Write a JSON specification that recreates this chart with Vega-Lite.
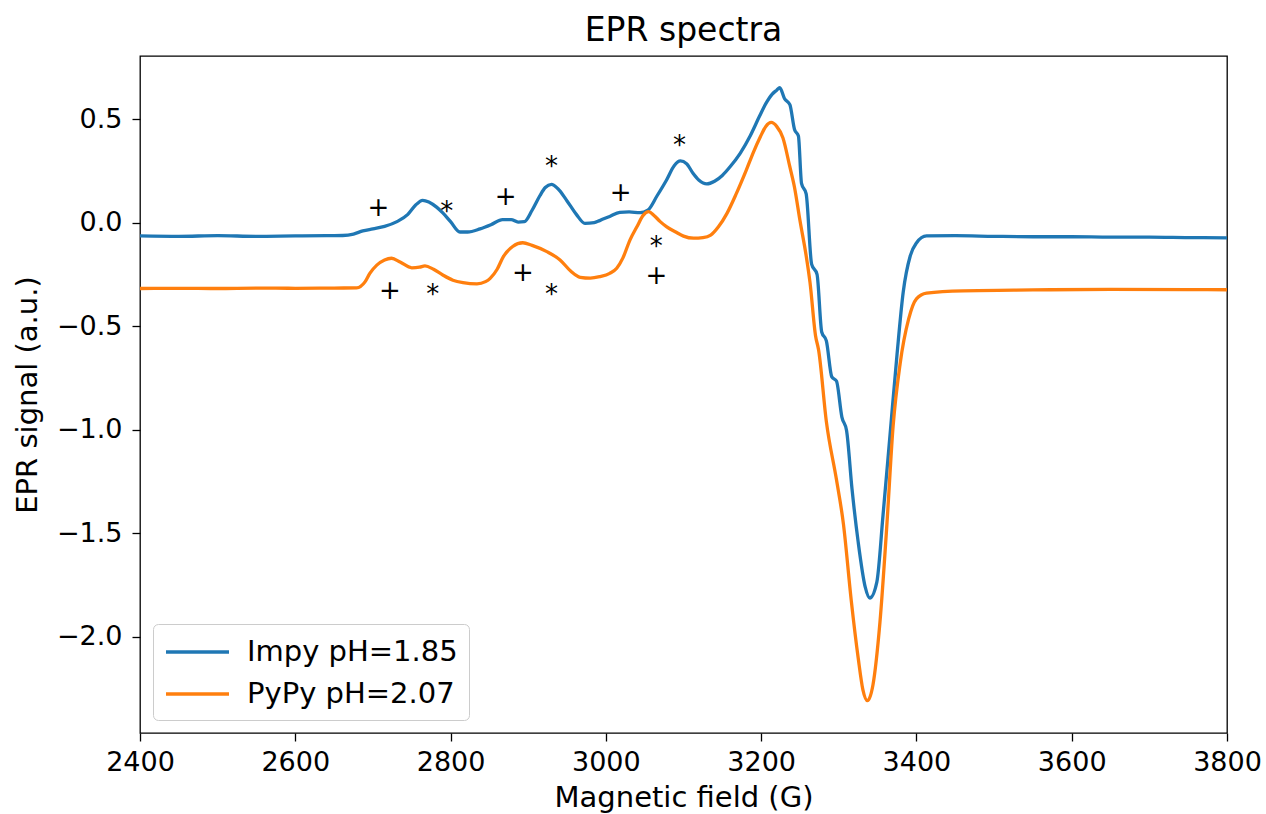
{
  "$schema": "https://vega.github.io/schema/vega-lite/v6.json",
  "width": 1087,
  "height": 677,
  "autosize": {"type": "none"},
  "padding": {"left": 140, "top": 56, "right": 39, "bottom": 81},
  "background": "white",
  "title": {"text": "EPR spectra", "fontSize": 33, "font": "DejaVu Sans", "fontWeight": "normal", "color": "#000", "anchor": "middle", "offset": 8},
  "datasets": {
    "spectra": [
      {"field": 2400, "signal": -0.064, "series": "Impy pH=1.85"},
      {"field": 2450, "signal": -0.066, "series": "Impy pH=1.85"},
      {"field": 2500, "signal": -0.063, "series": "Impy pH=1.85"},
      {"field": 2550, "signal": -0.066, "series": "Impy pH=1.85"},
      {"field": 2600, "signal": -0.064, "series": "Impy pH=1.85"},
      {"field": 2640, "signal": -0.063, "series": "Impy pH=1.85"},
      {"field": 2661, "signal": -0.062, "series": "Impy pH=1.85"},
      {"field": 2675, "signal": -0.055, "series": "Impy pH=1.85"},
      {"field": 2687, "signal": -0.040, "series": "Impy pH=1.85"},
      {"field": 2700, "signal": -0.030, "series": "Impy pH=1.85"},
      {"field": 2715, "signal": -0.018, "series": "Impy pH=1.85"},
      {"field": 2731, "signal": 0.005, "series": "Impy pH=1.85"},
      {"field": 2745, "signal": 0.040, "series": "Impy pH=1.85"},
      {"field": 2755, "signal": 0.085, "series": "Impy pH=1.85"},
      {"field": 2764, "signal": 0.108, "series": "Impy pH=1.85"},
      {"field": 2772, "signal": 0.100, "series": "Impy pH=1.85"},
      {"field": 2782, "signal": 0.075, "series": "Impy pH=1.85"},
      {"field": 2790, "signal": 0.047, "series": "Impy pH=1.85"},
      {"field": 2800, "signal": 0.005, "series": "Impy pH=1.85"},
      {"field": 2812, "signal": -0.045, "series": "Impy pH=1.85"},
      {"field": 2822, "signal": -0.045, "series": "Impy pH=1.85"},
      {"field": 2838, "signal": -0.030, "series": "Impy pH=1.85"},
      {"field": 2852, "signal": -0.010, "series": "Impy pH=1.85"},
      {"field": 2867, "signal": 0.015, "series": "Impy pH=1.85"},
      {"field": 2878, "signal": 0.015, "series": "Impy pH=1.85"},
      {"field": 2887, "signal": 0.003, "series": "Impy pH=1.85"},
      {"field": 2895, "signal": 0.005, "series": "Impy pH=1.85"},
      {"field": 2905, "signal": 0.060, "series": "Impy pH=1.85"},
      {"field": 2915, "signal": 0.130, "series": "Impy pH=1.85"},
      {"field": 2922, "signal": 0.170, "series": "Impy pH=1.85"},
      {"field": 2930, "signal": 0.185, "series": "Impy pH=1.85"},
      {"field": 2938, "signal": 0.165, "series": "Impy pH=1.85"},
      {"field": 2950, "signal": 0.105, "series": "Impy pH=1.85"},
      {"field": 2962, "signal": 0.040, "series": "Impy pH=1.85"},
      {"field": 2973, "signal": -0.003, "series": "Impy pH=1.85"},
      {"field": 2985, "signal": 0.000, "series": "Impy pH=1.85"},
      {"field": 2992, "signal": 0.010, "series": "Impy pH=1.85"},
      {"field": 3005, "signal": 0.030, "series": "Impy pH=1.85"},
      {"field": 3018, "signal": 0.050, "series": "Impy pH=1.85"},
      {"field": 3030, "signal": 0.052, "series": "Impy pH=1.85"},
      {"field": 3044, "signal": 0.048, "series": "Impy pH=1.85"},
      {"field": 3054, "signal": 0.060, "series": "Impy pH=1.85"},
      {"field": 3066, "signal": 0.130, "series": "Impy pH=1.85"},
      {"field": 3078, "signal": 0.205, "series": "Impy pH=1.85"},
      {"field": 3088, "signal": 0.275, "series": "Impy pH=1.85"},
      {"field": 3096, "signal": 0.298, "series": "Impy pH=1.85"},
      {"field": 3104, "signal": 0.285, "series": "Impy pH=1.85"},
      {"field": 3112, "signal": 0.240, "series": "Impy pH=1.85"},
      {"field": 3120, "signal": 0.205, "series": "Impy pH=1.85"},
      {"field": 3130, "signal": 0.187, "series": "Impy pH=1.85"},
      {"field": 3140, "signal": 0.200, "series": "Impy pH=1.85"},
      {"field": 3150, "signal": 0.228, "series": "Impy pH=1.85"},
      {"field": 3160, "signal": 0.270, "series": "Impy pH=1.85"},
      {"field": 3173, "signal": 0.335, "series": "Impy pH=1.85"},
      {"field": 3186, "signal": 0.420, "series": "Impy pH=1.85"},
      {"field": 3198, "signal": 0.515, "series": "Impy pH=1.85"},
      {"field": 3206, "signal": 0.575, "series": "Impy pH=1.85"},
      {"field": 3214, "signal": 0.620, "series": "Impy pH=1.85"},
      {"field": 3220, "signal": 0.640, "series": "Impy pH=1.85"},
      {"field": 3224, "signal": 0.652, "series": "Impy pH=1.85"},
      {"field": 3230, "signal": 0.600, "series": "Impy pH=1.85"},
      {"field": 3237, "signal": 0.570, "series": "Impy pH=1.85"},
      {"field": 3243, "signal": 0.450, "series": "Impy pH=1.85"},
      {"field": 3248, "signal": 0.419, "series": "Impy pH=1.85"},
      {"field": 3252, "signal": 0.190, "series": "Impy pH=1.85"},
      {"field": 3258, "signal": 0.139, "series": "Impy pH=1.85"},
      {"field": 3265, "signal": -0.200, "series": "Impy pH=1.85"},
      {"field": 3272, "signal": -0.250, "series": "Impy pH=1.85"},
      {"field": 3278, "signal": -0.528, "series": "Impy pH=1.85"},
      {"field": 3284, "signal": -0.571, "series": "Impy pH=1.85"},
      {"field": 3291, "signal": -0.745, "series": "Impy pH=1.85"},
      {"field": 3297, "signal": -0.765, "series": "Impy pH=1.85"},
      {"field": 3304, "signal": -0.939, "series": "Impy pH=1.85"},
      {"field": 3310, "signal": -1.004, "series": "Impy pH=1.85"},
      {"field": 3317, "signal": -1.285, "series": "Impy pH=1.85"},
      {"field": 3325, "signal": -1.543, "series": "Impy pH=1.85"},
      {"field": 3334, "signal": -1.759, "series": "Impy pH=1.85"},
      {"field": 3340, "signal": -1.813, "series": "Impy pH=1.85"},
      {"field": 3349, "signal": -1.736, "series": "Impy pH=1.85"},
      {"field": 3357, "signal": -1.412, "series": "Impy pH=1.85"},
      {"field": 3366, "signal": -1.025, "series": "Impy pH=1.85"},
      {"field": 3375, "signal": -0.637, "series": "Impy pH=1.85"},
      {"field": 3383, "signal": -0.335, "series": "Impy pH=1.85"},
      {"field": 3392, "signal": -0.161, "series": "Impy pH=1.85"},
      {"field": 3400, "signal": -0.098, "series": "Impy pH=1.85"},
      {"field": 3413, "signal": -0.064, "series": "Impy pH=1.85"},
      {"field": 3450, "signal": -0.063, "series": "Impy pH=1.85"},
      {"field": 3500, "signal": -0.066, "series": "Impy pH=1.85"},
      {"field": 3550, "signal": -0.068, "series": "Impy pH=1.85"},
      {"field": 3600, "signal": -0.068, "series": "Impy pH=1.85"},
      {"field": 3650, "signal": -0.070, "series": "Impy pH=1.85"},
      {"field": 3700, "signal": -0.070, "series": "Impy pH=1.85"},
      {"field": 3750, "signal": -0.072, "series": "Impy pH=1.85"},
      {"field": 3800, "signal": -0.073, "series": "Impy pH=1.85"},
      {"field": 2400, "signal": -0.318, "series": "PyPy pH=2.07"},
      {"field": 2450, "signal": -0.317, "series": "PyPy pH=2.07"},
      {"field": 2500, "signal": -0.318, "series": "PyPy pH=2.07"},
      {"field": 2550, "signal": -0.316, "series": "PyPy pH=2.07"},
      {"field": 2600, "signal": -0.317, "series": "PyPy pH=2.07"},
      {"field": 2650, "signal": -0.316, "series": "PyPy pH=2.07"},
      {"field": 2679, "signal": -0.315, "series": "PyPy pH=2.07"},
      {"field": 2690, "signal": -0.285, "series": "PyPy pH=2.07"},
      {"field": 2696, "signal": -0.245, "series": "PyPy pH=2.07"},
      {"field": 2705, "signal": -0.205, "series": "PyPy pH=2.07"},
      {"field": 2715, "signal": -0.180, "series": "PyPy pH=2.07"},
      {"field": 2724, "signal": -0.172, "series": "PyPy pH=2.07"},
      {"field": 2735, "signal": -0.190, "series": "PyPy pH=2.07"},
      {"field": 2750, "signal": -0.218, "series": "PyPy pH=2.07"},
      {"field": 2760, "signal": -0.215, "series": "PyPy pH=2.07"},
      {"field": 2767, "signal": -0.209, "series": "PyPy pH=2.07"},
      {"field": 2778, "signal": -0.225, "series": "PyPy pH=2.07"},
      {"field": 2790, "signal": -0.253, "series": "PyPy pH=2.07"},
      {"field": 2803, "signal": -0.278, "series": "PyPy pH=2.07"},
      {"field": 2816, "signal": -0.290, "series": "PyPy pH=2.07"},
      {"field": 2834, "signal": -0.296, "series": "PyPy pH=2.07"},
      {"field": 2845, "signal": -0.285, "series": "PyPy pH=2.07"},
      {"field": 2851, "signal": -0.269, "series": "PyPy pH=2.07"},
      {"field": 2860, "signal": -0.225, "series": "PyPy pH=2.07"},
      {"field": 2868, "signal": -0.164, "series": "PyPy pH=2.07"},
      {"field": 2880, "signal": -0.115, "series": "PyPy pH=2.07"},
      {"field": 2893, "signal": -0.097, "series": "PyPy pH=2.07"},
      {"field": 2905, "signal": -0.110, "series": "PyPy pH=2.07"},
      {"field": 2924, "signal": -0.140, "series": "PyPy pH=2.07"},
      {"field": 2941, "signal": -0.180, "series": "PyPy pH=2.07"},
      {"field": 2955, "signal": -0.235, "series": "PyPy pH=2.07"},
      {"field": 2967, "signal": -0.264, "series": "PyPy pH=2.07"},
      {"field": 2980, "signal": -0.268, "series": "PyPy pH=2.07"},
      {"field": 2992, "signal": -0.261, "series": "PyPy pH=2.07"},
      {"field": 3005, "signal": -0.245, "series": "PyPy pH=2.07"},
      {"field": 3014, "signal": -0.220, "series": "PyPy pH=2.07"},
      {"field": 3022, "signal": -0.170, "series": "PyPy pH=2.07"},
      {"field": 3031, "signal": -0.084, "series": "PyPy pH=2.07"},
      {"field": 3040, "signal": -0.020, "series": "PyPy pH=2.07"},
      {"field": 3048, "signal": 0.035, "series": "PyPy pH=2.07"},
      {"field": 3055, "signal": 0.053, "series": "PyPy pH=2.07"},
      {"field": 3062, "signal": 0.035, "series": "PyPy pH=2.07"},
      {"field": 3070, "signal": 0.005, "series": "PyPy pH=2.07"},
      {"field": 3078, "signal": -0.019, "series": "PyPy pH=2.07"},
      {"field": 3090, "signal": -0.045, "series": "PyPy pH=2.07"},
      {"field": 3100, "signal": -0.065, "series": "PyPy pH=2.07"},
      {"field": 3113, "signal": -0.075, "series": "PyPy pH=2.07"},
      {"field": 3125, "signal": -0.072, "series": "PyPy pH=2.07"},
      {"field": 3135, "signal": -0.060, "series": "PyPy pH=2.07"},
      {"field": 3145, "signal": -0.020, "series": "PyPy pH=2.07"},
      {"field": 3156, "signal": 0.045, "series": "PyPy pH=2.07"},
      {"field": 3168, "signal": 0.140, "series": "PyPy pH=2.07"},
      {"field": 3181, "signal": 0.255, "series": "PyPy pH=2.07"},
      {"field": 3190, "signal": 0.340, "series": "PyPy pH=2.07"},
      {"field": 3199, "signal": 0.415, "series": "PyPy pH=2.07"},
      {"field": 3206, "signal": 0.465, "series": "PyPy pH=2.07"},
      {"field": 3213, "signal": 0.484, "series": "PyPy pH=2.07"},
      {"field": 3220, "signal": 0.465, "series": "PyPy pH=2.07"},
      {"field": 3228, "signal": 0.410, "series": "PyPy pH=2.07"},
      {"field": 3237, "signal": 0.269, "series": "PyPy pH=2.07"},
      {"field": 3243, "signal": 0.170, "series": "PyPy pH=2.07"},
      {"field": 3250, "signal": 0.010, "series": "PyPy pH=2.07"},
      {"field": 3258, "signal": -0.160, "series": "PyPy pH=2.07"},
      {"field": 3263, "signal": -0.291, "series": "PyPy pH=2.07"},
      {"field": 3270, "signal": -0.545, "series": "PyPy pH=2.07"},
      {"field": 3274, "signal": -0.615, "series": "PyPy pH=2.07"},
      {"field": 3284, "signal": -0.961, "series": "PyPy pH=2.07"},
      {"field": 3297, "signal": -1.241, "series": "PyPy pH=2.07"},
      {"field": 3306, "signal": -1.456, "series": "PyPy pH=2.07"},
      {"field": 3316, "signal": -1.823, "series": "PyPy pH=2.07"},
      {"field": 3325, "signal": -2.103, "series": "PyPy pH=2.07"},
      {"field": 3331, "signal": -2.255, "series": "PyPy pH=2.07"},
      {"field": 3337, "signal": -2.309, "series": "PyPy pH=2.07"},
      {"field": 3344, "signal": -2.233, "series": "PyPy pH=2.07"},
      {"field": 3353, "signal": -1.931, "series": "PyPy pH=2.07"},
      {"field": 3362, "signal": -1.456, "series": "PyPy pH=2.07"},
      {"field": 3370, "signal": -0.982, "series": "PyPy pH=2.07"},
      {"field": 3379, "signal": -0.681, "series": "PyPy pH=2.07"},
      {"field": 3390, "signal": -0.465, "series": "PyPy pH=2.07"},
      {"field": 3400, "signal": -0.368, "series": "PyPy pH=2.07"},
      {"field": 3413, "signal": -0.340, "series": "PyPy pH=2.07"},
      {"field": 3460, "signal": -0.329, "series": "PyPy pH=2.07"},
      {"field": 3550, "signal": -0.325, "series": "PyPy pH=2.07"},
      {"field": 3650, "signal": -0.322, "series": "PyPy pH=2.07"},
      {"field": 3750, "signal": -0.323, "series": "PyPy pH=2.07"},
      {"field": 3800, "signal": -0.324, "series": "PyPy pH=2.07"}
    ],
    "markers": [
      {"field": 2707, "signal": 0.069, "symbol": "+"},
      {"field": 2795, "signal": 0.052, "symbol": "*"},
      {"field": 2871, "signal": 0.126, "symbol": "+"},
      {"field": 2930, "signal": 0.269, "symbol": "*"},
      {"field": 3019, "signal": 0.142, "symbol": "+"},
      {"field": 3095, "signal": 0.368, "symbol": "*"},
      {"field": 2722, "signal": -0.330, "symbol": "+"},
      {"field": 2777, "signal": -0.347, "symbol": "*"},
      {"field": 2893, "signal": -0.245, "symbol": "+"},
      {"field": 2930, "signal": -0.347, "symbol": "*"},
      {"field": 3065, "signal": -0.118, "symbol": "*"},
      {"field": 3065, "signal": -0.256, "symbol": "+"}
    ]
  },
  "layer": [
    {
      "data": {"name": "spectra"},
      "mark": {"type": "line", "strokeWidth": 3.3, "interpolate": "monotone", "clip": true},
      "encoding": {
        "x": {"field": "field", "type": "quantitative", "title": "Magnetic field (G)",
              "scale": {"domain": [2400, 3800], "nice": false, "zero": false},
              "axis": {"values": [2400, 2600, 2800, 3000, 3200, 3400, 3600, 3800], "format": "d", "labelFlush": false}},
        "y": {"field": "signal", "type": "quantitative", "title": "EPR signal (a.u.)",
              "scale": {"domain": [-2.465, 0.805], "nice": false, "zero": false},
              "axis": {"values": [-2, -1.5, -1, -0.5, 0, 0.5], "format": ".1f", "labelFlush": false}},
        "color": {"field": "series", "type": "nominal",
                  "scale": {"domain": ["Impy pH=1.85", "PyPy pH=2.07"], "range": ["#1f77b4", "#ff7f0e"]},
                  "legend": {"title": null}},
        "order": {"field": "field", "type": "quantitative"}
      }
    },
    {
      "data": {"name": "markers"},
      "mark": {"type": "text", "fontSize": 26, "font": "DejaVu Sans", "color": "#000", "align": "center", "baseline": "middle"},
      "encoding": {
        "x": {"field": "field", "type": "quantitative"},
        "y": {"field": "signal", "type": "quantitative"},
        "text": {"field": "symbol"}
      }
    }
  ],
  "config": {
    "font": "DejaVu Sans",
    "view": {"stroke": "#000", "strokeWidth": 1.3},
    "axis": {
      "grid": false,
      "domain": false,
      "ticks": true,
      "tickColor": "#000",
      "tickWidth": 1.3,
      "tickSize": 8,
      "labelFont": "DejaVu Sans",
      "labelFontSize": 27,
      "labelColor": "#000",
      "titleFont": "DejaVu Sans",
      "titleFontSize": 29,
      "titleFontWeight": "normal",
      "titleColor": "#000"
    },
    "axisX": {"labelPadding": 8, "titlePadding": 8},
    "axisY": {"labelPadding": 10, "titlePadding": 14},
    "legend": {
      "orient": "none",
      "legendX": 13,
      "legendY": 568,
      "padding": 11,
      "symbolType": "M-1,0H3.2",
      "symbolSize": 900,
      "symbolStrokeWidth": 3.3,
      "labelOffset": 49,
      "rowPadding": 10,
      "labelFontSize": 29,
      "labelFont": "DejaVu Sans",
      "labelColor": "#000",
      "labelLimit": 400,
      "strokeColor": "#cccccc",
      "fillColor": "rgba(255,255,255,0.8)",
      "cornerRadius": 5
    }
  }
}
